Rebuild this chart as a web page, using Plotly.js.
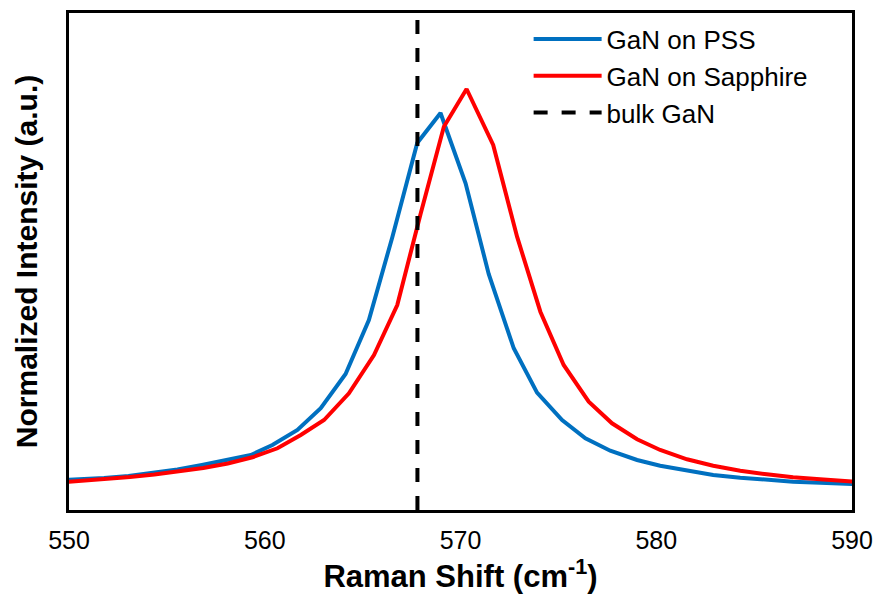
<!DOCTYPE html>
<html>
<head>
<meta charset="utf-8">
<script src="https://cdn.plot.ly/plotly-3.0.1.min.js"></script>
<style>html,body{margin:0;padding:0;background:#fff;}#chart{width:877px;height:595px;}</style>
</head>
<body>
<div id="chart"></div>
<script>
// Raman shift (cm^-1) and normalized intensity
const pssShift = [549.3, 550.54, 551.79, 553.04, 554.29, 555.54, 556.79, 558.04, 559.29, 560.39, 561.67, 562.86, 564.13, 565.32, 566.52, 567.79, 568.98, 570.26, 571.44, 572.72, 573.91, 575.19, 576.38, 577.65, 579.02, 580.20, 581.57, 582.91, 584.29, 585.65, 586.99, 588.37, 589.90, 590.6];
const pssIntensity = [0.070, 0.0724, 0.0760, 0.0808, 0.0879, 0.0962, 0.1069, 0.1188, 0.1306, 0.1544, 0.1900, 0.2416, 0.3230, 0.4513, 0.6485, 0.8717, 0.9430, 0.7760, 0.5606, 0.3841, 0.2786, 0.2138, 0.1703, 0.1409, 0.1188, 0.1052, 0.0933, 0.0831, 0.0767, 0.0713, 0.0672, 0.0648, 0.0618, 0.061];

const sapShift = [549.3, 550.61, 551.86, 553.11, 554.36, 555.61, 556.86, 558.11, 559.37, 560.65, 561.84, 563.03, 564.30, 565.58, 566.77, 567.96, 569.15, 570.31, 571.67, 572.89, 574.08, 575.27, 576.55, 577.74, 579.02, 580.20, 581.57, 582.91, 584.29, 585.65, 586.99, 588.37, 589.90, 590.6];
const sapIntensity = [0.0646, 0.0689, 0.0736, 0.0784, 0.0843, 0.0914, 0.0998, 0.1105, 0.1252, 0.1466, 0.1781, 0.2138, 0.2772, 0.3682, 0.4869, 0.7031, 0.9105, 1.0, 0.8670, 0.6492, 0.4710, 0.3444, 0.2572, 0.2059, 0.1679, 0.1425, 0.1204, 0.1052, 0.0933, 0.0848, 0.0777, 0.0729, 0.0672, 0.066];

const bulkShift = [567.8, 567.8];
const bulkIntensity = [0, 1.1805];

const seriesNames = ["GaN on PSS", "GaN on Sapphire", "bulk GaN"];
const xTicks = [550, 560, 570, 580, 590];

const FONT = "Liberation Sans";

const traces = [
  {x: pssShift, y: pssIntensity, name: seriesNames[0], type: "scatter", mode: "lines",
   line: {color: "#0070C0", width: 4}},
  {x: sapShift, y: sapIntensity, name: seriesNames[1], type: "scatter", mode: "lines",
   line: {color: "#FF0000", width: 4}},
  {x: bulkShift, y: bulkIntensity, name: seriesNames[2], type: "scatter", mode: "lines",
   line: {color: "#000000", width: 4, dash: "14px,14px"}}
];

const layout = {
  width: 877, height: 595,
  margin: {l: 69, r: 25, t: 13, b: 85, pad: 0},
  paper_bgcolor: "#ffffff", plot_bgcolor: "#ffffff",
  font: {family: FONT, color: "#000000"},
  showlegend: true,
  legend: {
    x: 0.587, xanchor: "left", y: 0.995, yanchor: "top",
    bgcolor: "rgba(0,0,0,0)", borderwidth: 0,
    font: {family: FONT, size: 26, color: "#000"},
    itemwidth: 68, tracegroupgap: 0
  },
  xaxis: {
    range: [550, 590], tickvals: xTicks, ticktext: xTicks.map(String),
    ticks: "", showgrid: false, zeroline: false,
    showline: true, mirror: true, linecolor: "#000", linewidth: 3,
    tickfont: {family: FONT, size: 25, color: "#000"},
    ticklabelstandoff: 6,
    title: {text: "Raman Shift (cm<sup>-1</sup>)", font: {family: FONT, size: 31, color: "#000", weight: "bold"}, standoff: 0},
    automargin: false
  },
  yaxis: {
    range: [0, 1.1805], showticklabels: false, ticks: "", showgrid: false, zeroline: false,
    showline: true, mirror: true, linecolor: "#000", linewidth: 3,
    title: {text: "Normalized Intensity (a.u.)", font: {family: FONT, size: 30, color: "#000", weight: "bold"}, standoff: 20},
    automargin: false
  }
};

Plotly.newPlot("chart", traces, layout, {displayModeBar: false, staticPlot: true});
</script>
</body>
</html>
